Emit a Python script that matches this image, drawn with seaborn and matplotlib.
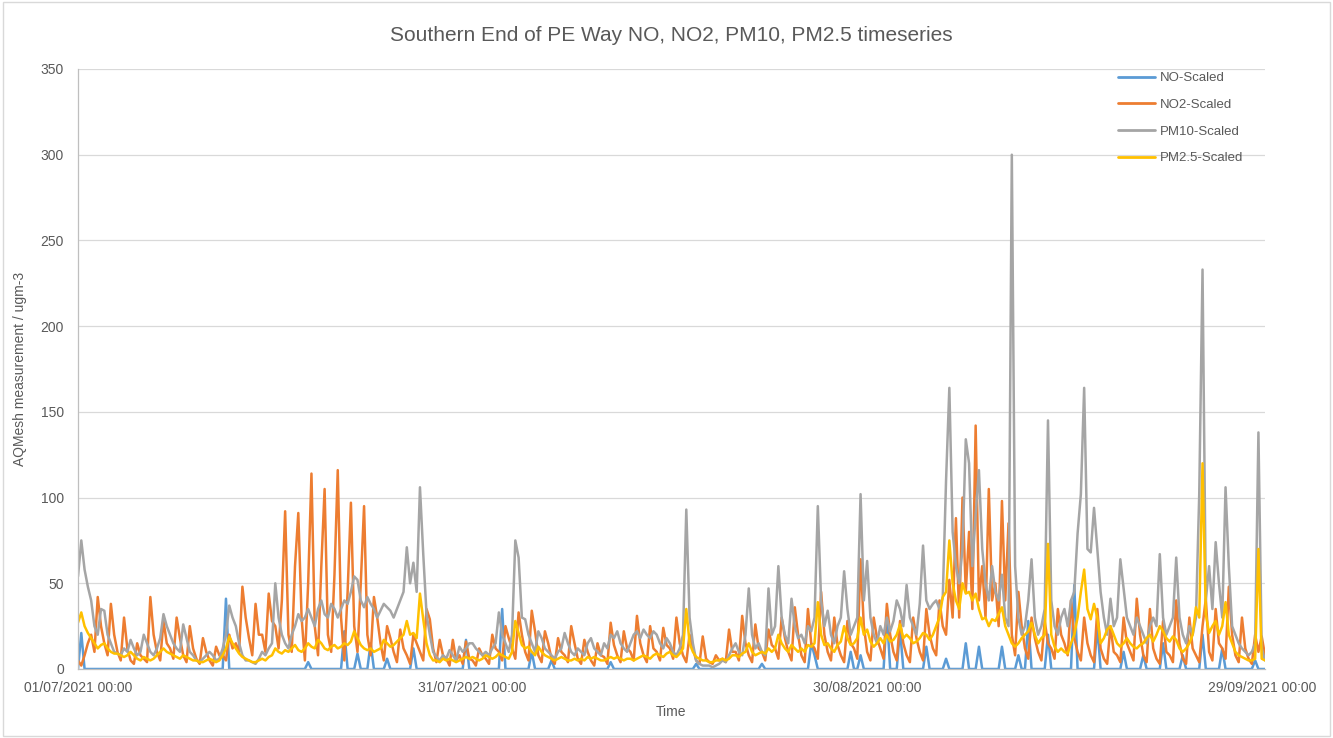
import matplotlib
matplotlib.use("Agg")
from matplotlib import pyplot as plt
import matplotlib.dates as mdates
from matplotlib.patches import Rectangle
import pandas as pd
import seaborn as sns

# 6-hourly readings (00, 06, 12, 18 h), one row = 5 days, starting 01/07/2021 00:00
start_time = "2021-07-01 00:00"
series_names = ["NO-Scaled", "NO2-Scaled", "PM10-Scaled", "PM2.5-Scaled"]
series_colors = ["#5B9BD5", "#ED7D31", "#A5A5A5", "#FFC000"]

no_scaled = [
    0, 21, 0, 0, 0, 0, 0, 0, 0, 0, 0, 0, 0, 0, 0, 0, 0, 0, 0, 0,
    0, 0, 0, 0, 0, 0, 0, 0, 0, 0, 0, 0, 0, 0, 0, 0, 0, 0, 0, 0,
    0, 0, 0, 0, 0, 41, 0, 0, 0, 0, 0, 0, 0, 0, 0, 0, 0, 0, 0, 0,
    0, 0, 0, 0, 0, 0, 0, 0, 0, 0, 4, 0, 0, 0, 0, 0, 0, 0, 0, 0,
    0, 22, 0, 0, 0, 9, 0, 0, 0, 15, 0, 0, 0, 0, 6, 0, 0, 0, 0, 0,
    0, 0, 12, 0, 0, 0, 0, 0, 0, 0, 0, 0, 0, 0, 0, 0, 0, 0, 17, 0,
    0, 0, 0, 0, 0, 0, 0, 0, 0, 35, 0, 0, 0, 0, 0, 0, 0, 0, 10, 0,
    0, 0, 0, 0, 5, 0, 0, 0, 0, 0, 0, 0, 0, 0, 0, 0, 0, 0, 0, 0,
    0, 0, 4, 0, 0, 0, 0, 0, 0, 0, 0, 0, 0, 0, 0, 0, 0, 0, 0, 0,
    0, 0, 0, 0, 0, 0, 0, 0, 3, 0, 0, 0, 0, 0, 0, 0, 0, 0, 0, 0,
    0, 0, 0, 0, 0, 0, 0, 0, 3, 0, 0, 0, 0, 0, 0, 0, 0, 0, 0, 0,
    0, 0, 0, 15, 8, 0, 0, 0, 0, 0, 0, 0, 0, 0, 0, 10, 0, 0, 8, 0,
    0, 0, 0, 0, 0, 0, 32, 0, 0, 0, 23, 0, 0, 0, 0, 0, 0, 0, 13, 0,
    0, 0, 0, 0, 6, 0, 0, 0, 0, 0, 15, 0, 0, 0, 13, 0, 0, 0, 0, 0,
    0, 13, 0, 0, 0, 0, 8, 0, 0, 28, 0, 0, 0, 0, 0, 20, 0, 0, 0, 0,
    0, 0, 0, 49, 0, 0, 0, 0, 0, 0, 25, 0, 0, 0, 0, 0, 0, 0, 10, 0,
    0, 0, 0, 0, 8, 0, 0, 0, 0, 0, 15, 0, 0, 0, 0, 0, 8, 0, 0, 0,
    0, 0, 20, 0, 0, 0, 0, 0, 12, 0, 0, 0, 0, 0, 0, 0, 0, 0, 5, 0,
    0, 0,
]

no2_scaled = [
    5, 2, 8, 15, 20, 10, 42, 25, 15, 8, 38, 20, 10, 5, 30, 12, 5, 3, 15, 8,
    6, 4, 42, 20, 10, 5, 28, 15, 12, 6, 30, 18, 8, 4, 25, 12, 6, 3, 18, 10,
    5, 2, 13, 8, 8, 5, 20, 12, 15, 10, 48, 30, 18, 8, 38, 20, 20, 10, 44, 28,
    25, 12, 40, 92, 20, 10, 60, 91, 30, 5, 50, 114, 25, 8, 60, 105, 20, 10, 55, 116,
    30, 5, 45, 97, 25, 10, 50, 95, 20, 8, 42, 30, 15, 5, 25, 18, 10, 4, 23, 12,
    8, 3, 20, 15, 10, 5, 35, 29, 12, 4, 17, 8, 6, 2, 17, 5, 8, 3, 16, 6,
    5, 2, 12, 8, 6, 3, 20, 12, 10, 5, 25, 18, 12, 6, 33, 20, 10, 5, 34, 22,
    8, 4, 22, 15, 6, 3, 18, 10, 8, 4, 25, 15, 6, 3, 17, 10, 5, 2, 15, 8,
    7, 3, 27, 14, 8, 4, 22, 12, 10, 5, 31, 15, 8, 4, 25, 12, 10, 5, 24, 14,
    12, 6, 30, 15, 8, 4, 20, 12, 5, 3, 19, 6, 4, 3, 8, 5, 6, 4, 23, 10,
    10, 5, 31, 15, 8, 4, 26, 12, 10, 5, 23, 14, 12, 6, 30, 18, 10, 5, 36, 20,
    8, 4, 35, 15, 12, 6, 45, 20, 10, 5, 30, 14, 8, 4, 28, 15, 12, 6, 64, 25,
    10, 5, 30, 18, 12, 6, 38, 20, 10, 5, 28, 15, 8, 4, 30, 18, 10, 5, 35, 20,
    12, 8, 40, 25, 20, 52, 30, 88, 30, 100, 45, 80, 35, 142, 40, 60, 30, 105, 40, 50,
    25, 98, 40, 85, 20, 8, 45, 25, 12, 6, 30, 18, 10, 5, 28, 15, 12, 6, 35, 20,
    15, 8, 40, 18, 10, 5, 30, 15, 8, 4, 35, 12, 6, 3, 25, 10, 8, 4, 30, 15,
    10, 5, 41, 20, 8, 4, 35, 12, 6, 3, 28, 10, 8, 4, 40, 15, 6, 3, 30, 12,
    8, 4, 25, 41, 10, 5, 35, 15, 12, 6, 48, 20, 8, 4, 30, 12, 6, 3, 20, 10,
    19, 8,
]

pm10_scaled = [
    54, 75, 58, 48, 40, 25, 20, 35, 34, 20, 15, 10, 9, 8, 12, 10, 17, 12, 8, 10,
    20, 15, 10, 8, 12, 18, 32, 25, 20, 15, 12, 10, 26, 18, 10, 8, 5, 4, 6, 8,
    10, 8, 5, 6, 12, 20, 37, 30, 25, 15, 8, 5, 5, 4, 3, 6, 10, 8, 12, 15,
    50, 30, 20, 15, 12, 20, 25, 32, 28, 30, 35, 30, 25, 35, 40, 32, 30, 38, 35, 30,
    35, 40, 38, 45, 54, 52, 40, 36, 42, 38, 35, 30, 34, 38, 36, 34, 30, 35, 40, 45,
    71, 50, 62, 45, 106, 67, 32, 20, 10, 7, 5, 8, 6, 11, 8, 5, 13, 10, 12, 15,
    15, 12, 10, 8, 10, 8, 12, 15, 33, 20, 15, 10, 20, 75, 65, 30, 29, 20, 15, 10,
    22, 18, 12, 10, 8, 6, 10, 12, 21, 15, 10, 8, 12, 10, 8, 15, 18, 12, 10, 8,
    15, 12, 20, 18, 22, 15, 12, 10, 15, 20, 22, 18, 23, 20, 18, 22, 20, 15, 12, 18,
    15, 10, 8, 12, 20, 93, 30, 15, 5, 3, 2, 2, 2, 1, 2, 3, 5, 4, 8, 12,
    15, 10, 8, 20, 47, 20, 12, 15, 10, 8, 47, 20, 25, 60, 30, 20, 15, 41, 25, 18,
    20, 15, 25, 22, 30, 95, 40, 25, 34, 20, 15, 25, 30, 57, 35, 20, 25, 30, 102, 40,
    63, 30, 20, 15, 25, 20, 30, 22, 28, 40, 35, 25, 49, 30, 25, 20, 38, 72, 40, 35,
    38, 40, 35, 42, 110, 164, 80, 60, 50, 70, 134, 120, 60, 90, 116, 70, 50, 40, 60, 45,
    40, 55, 30, 25, 300, 60, 30, 20, 25, 40, 64, 30, 20, 25, 35, 145, 40, 25, 20, 30,
    35, 25, 40, 45, 79, 102, 164, 70, 68, 94, 70, 45, 30, 20, 41, 25, 30, 64, 47, 30,
    25, 20, 30, 25, 20, 15, 25, 30, 25, 67, 30, 20, 25, 30, 65, 30, 20, 15, 25, 20,
    30, 102, 233, 40, 60, 35, 74, 50, 30, 106, 60, 25, 20, 15, 12, 10, 8, 10, 15, 138,
    12, 5,
]

pm25_scaled = [
    27, 33, 25, 21, 18, 15, 12, 14, 15, 12, 10, 9, 9, 8, 7, 8, 10, 8, 6, 5,
    7, 6, 5, 6, 8, 10, 12, 10, 9, 8, 7, 6, 8, 7, 6, 5, 5, 4, 4, 5,
    6, 5, 4, 5, 8, 12, 19, 15, 12, 9, 7, 6, 5, 4, 4, 5, 6, 5, 7, 8,
    12, 10, 9, 11, 10, 12, 14, 11, 10, 12, 15, 13, 12, 17, 15, 12, 11, 13, 14, 12,
    13, 15, 14, 16, 22, 18, 14, 12, 11, 12, 10, 11, 12, 17, 15, 13, 14, 16, 18, 20,
    28, 20, 21, 18, 44, 29, 15, 8, 5, 5, 4, 6, 5, 6, 5, 4, 5, 6, 7, 6,
    7, 6, 5, 6, 8, 7, 6, 7, 9, 8, 7, 6, 10, 28, 21, 14, 12, 13, 10, 8,
    13, 10, 8, 7, 6, 5, 6, 7, 6, 5, 5, 6, 5, 6, 5, 7, 6, 7, 6, 5,
    5, 6, 7, 6, 7, 6, 5, 6, 6, 5, 6, 7, 8, 7, 6, 8, 9, 8, 7, 9,
    10, 8, 7, 9, 12, 35, 15, 10, 7, 6, 5, 5, 4, 4, 5, 5, 6, 5, 6, 8,
    8, 7, 9, 10, 15, 10, 8, 9, 10, 9, 12, 10, 12, 20, 15, 12, 10, 14, 12, 10,
    12, 10, 14, 13, 15, 39, 20, 14, 15, 12, 10, 14, 16, 25, 18, 14, 15, 18, 30, 20,
    23, 16, 13, 15, 18, 15, 20, 16, 17, 20, 26, 18, 20, 18, 15, 16, 18, 21, 20, 17,
    20, 25, 30, 42, 45, 75, 50, 40, 35, 50, 44, 45, 40, 44, 35, 29, 30, 25, 29, 28,
    32, 36, 25, 20, 15, 13, 15, 18, 20, 22, 27, 20, 15, 18, 20, 73, 20, 13, 10, 12,
    10, 9, 15, 20, 30, 45, 58, 35, 29, 38, 30, 15, 18, 23, 25, 20, 15, 13, 15, 18,
    15, 13, 12, 14, 15, 18, 20, 16, 20, 25, 22, 18, 16, 19, 17, 12, 10, 12, 15, 20,
    36, 30, 120, 32, 21, 25, 28, 20, 25, 39, 20, 15, 10, 8, 7, 6, 5, 5, 6, 70,
    6, 5,
]

tick_dates = ["2021-07-01", "2021-07-31", "2021-08-30", "2021-09-29"]

wide = pd.DataFrame({
    "NO-Scaled": no_scaled,
    "NO2-Scaled": no2_scaled,
    "PM10-Scaled": pm10_scaled,
    "PM2.5-Scaled": pm25_scaled,
})
wide["time"] = pd.date_range(start_time, periods=len(wide), freq="6h")
data = wide.melt(id_vars="time", var_name="series", value_name="value")

sns.set_theme(style="white")
plt.rcParams["font.family"] = ["Liberation Sans", "DejaVu Sans"]
text_grey = "#595959"

fig = plt.figure(figsize=(13.33, 7.38), dpi=100)
ax = fig.add_axes([78 / 1333, 1 - 669 / 738, (1265 - 78) / 1333, 600 / 738])

sns.lineplot(data=data, x="time", y="value", hue="series", hue_order=series_names,
             palette=series_colors, estimator=None, linewidth=1.8, ax=ax)

ax.set_xlim(pd.Timestamp(start_time), wide["time"].iloc[-1])
ax.set_ylim(0, 350)
ax.set_yticks(range(0, 351, 50))
ax.set_xticks(pd.to_datetime(tick_dates))
ax.xaxis.set_major_formatter(mdates.DateFormatter("%d/%m/%Y %H:%M"))
ax.tick_params(axis="both", length=0, labelsize=10, labelcolor=text_grey)
ax.tick_params(axis="x", pad=9)
ax.tick_params(axis="y", pad=10)

ax.yaxis.grid(True, color="#D9D9D9", linewidth=0.9)
ax.xaxis.grid(False)
for side in ["top", "right"]:
    ax.spines[side].set_visible(False)
for side in ["left", "bottom"]:
    ax.spines[side].set_color("#BFBFBF")
    ax.spines[side].set_linewidth(0.9)

ax.set_xlabel("Time", fontsize=10, color=text_grey, labelpad=7)
ax.set_ylabel("AQMesh measurement / ugm-3", fontsize=10, color=text_grey, labelpad=10)
ax.set_title("Southern End of PE Way NO, NO2, PM10, PM2.5 timeseries",
             fontsize=15, color=text_grey, pad=20)

leg = ax.legend(loc="upper left", bbox_to_anchor=(1118 / 1333, 1 - 72 / 738),
                bbox_transform=fig.transFigure, frameon=False, fontsize=9.5,
                handlelength=2.8, labelspacing=1.1, borderpad=0, borderaxespad=0,
                handletextpad=0.4)
for text in leg.get_texts():
    text.set_color(text_grey)
for line in leg.get_lines():
    line.set_linewidth(2)

fig.patches.append(Rectangle((0.002, 0.003), 0.996, 0.994, transform=fig.transFigure,
                             fill=False, edgecolor="#D9D9D9", linewidth=1))

fig.savefig("out.png", dpi=100)
